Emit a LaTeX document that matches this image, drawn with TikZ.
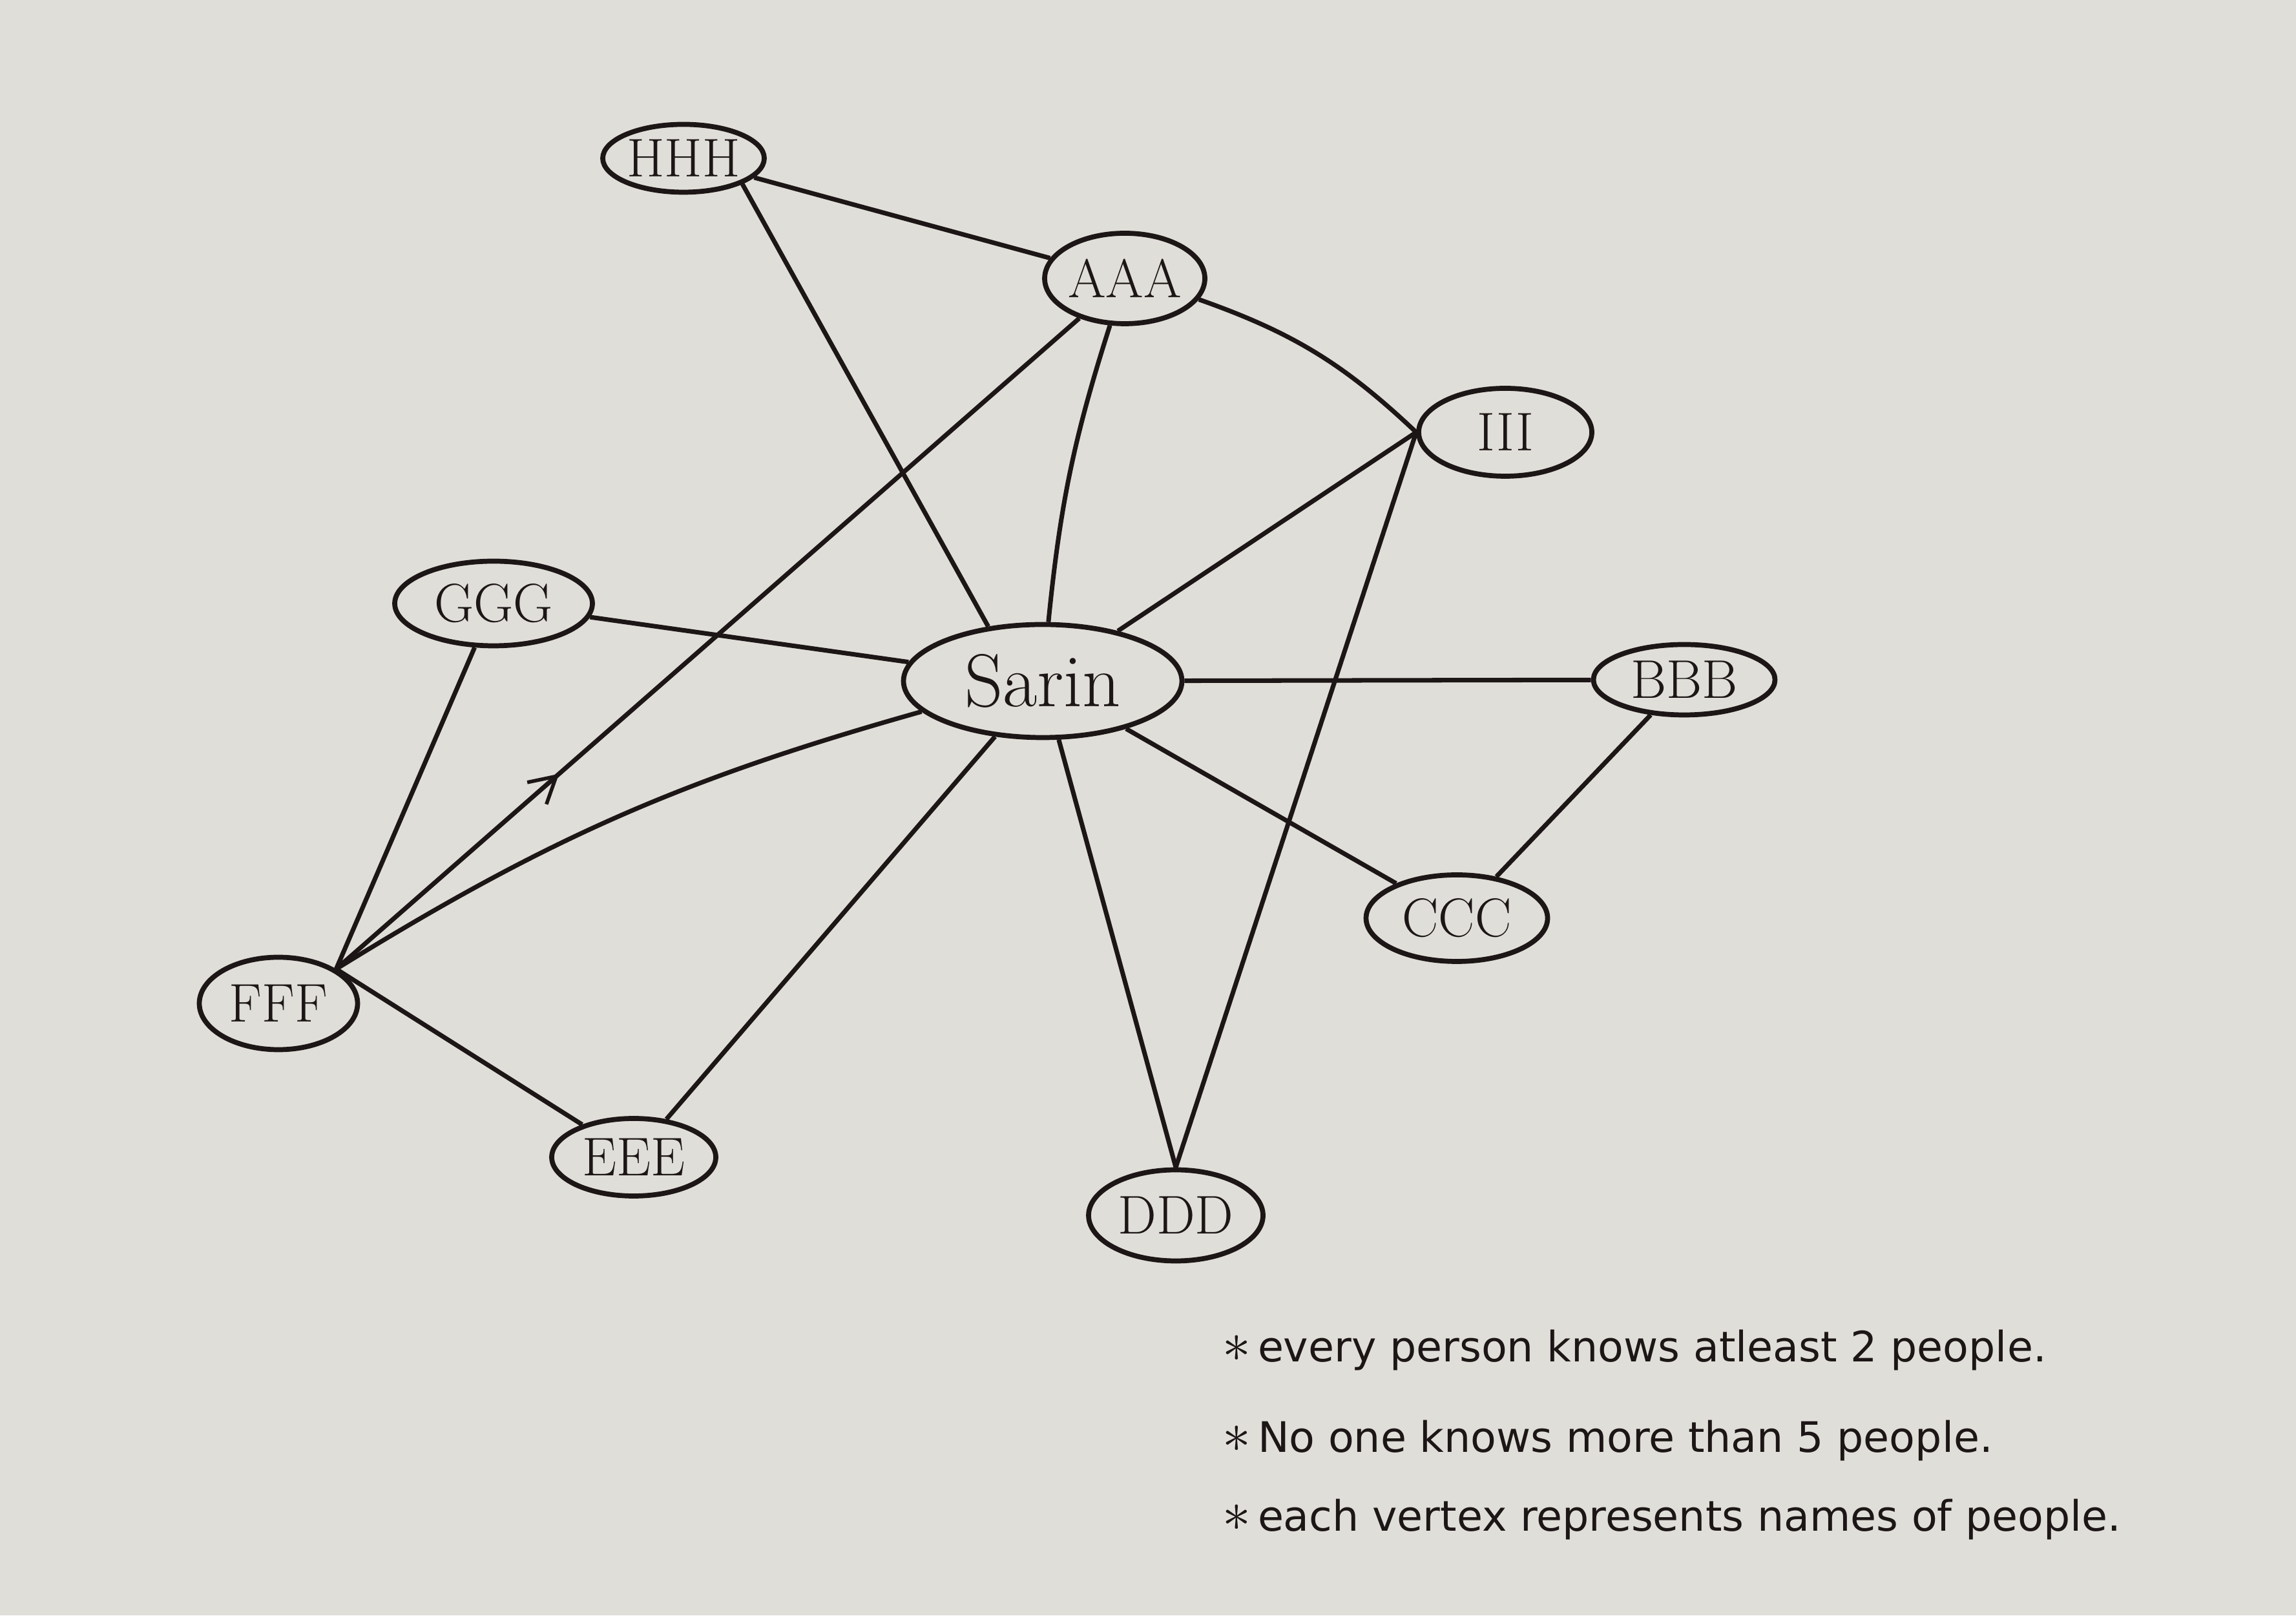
\documentclass[tikz,border=0pt]{standalone}
\usepackage{amsmath}
\usepackage{fontspec}
\newfontfamily\notefont{DejaVu Sans}
\usetikzlibrary{shapes.geometric, positioning, arrows.meta, decorations.markings}
\definecolor{paper}{RGB}{224,222,216}
\definecolor{ink}{RGB}{28,22,22}
\tikzset{
  person/.style={ellipse, draw=ink, line width=2.2pt, inner sep=0pt, align=center, font=\fontsize{24}{29}\selectfont, text=ink},
  link/.style={draw=ink, line width=2pt},
  midarrow/.style={postaction={decorate}, decoration={markings, mark=at position #1 with {\arrow[ink, line width=1.6pt]{Straight Barb[length=4mm, width=4.5mm]}}}},
  note/.style={anchor=base west, font=\notefont\fontsize{18.5}{22}\selectfont, text=ink}
}
\newcommand{\bullstar}{{\fontsize{30}{30}\selectfont$\ast$}\,}
\begin{document}
\begin{tikzpicture}
  \fill[paper] (0,0) rectangle (35.54,25);
  \useasboundingbox (0,0) rectangle (35.54,25);

  % --- vertices ---
  \node (hhh) [person, minimum width=2.5cm, minimum height=1.05cm] at (10.58,22.55) {HHH};
  \node (aaa) [person, minimum width=2.45cm, minimum height=1.4cm] at (17.41,20.69) {AAA};
  \node (iii) [person, minimum width=2.68cm, minimum height=1.36cm] at (23.30,18.31) {III};
  \node (ggg) [person, minimum width=3.06cm, minimum height=1.31cm] at (7.64,15.66) {GGG};
  \node (sarin) [person, minimum width=4.31cm, minimum height=1.75cm, font=\fontsize{33}{40}\selectfont] at (16.14,14.46) {Sarin};
  \node (bbb) [person, minimum width=2.81cm, minimum height=1.09cm] at (26.07,14.48) {BBB};
  \node (ccc) [person, minimum width=2.81cm, minimum height=1.34cm] at (22.55,10.79) {CCC};
  \node (fff) [person, minimum width=2.45cm, minimum height=1.43cm] at (4.31,9.47) {FFF};
  \node (eee) [person, minimum width=2.54cm, minimum height=1.2cm] at (9.81,7.09) {EEE};
  \node (ddd) [person, minimum width=2.7cm, minimum height=1.41cm] at (18.20,6.19) {DDD};

  % --- edges ---
  \draw [link] (hhh) -- (aaa);
  \draw [link] (hhh.south east) -- (sarin.135);
  \draw [link] (aaa) to[bend left=12] (iii.west);
  \draw [link] (sarin) to[bend left=6] (aaa);
  \draw [link, midarrow=0.3] (fff.north east) -- (aaa);
  \draw [link] (sarin) -- (iii.west);
  \draw [link] (iii.west) -- (ddd.north);
  \draw [link] (ggg) -- (sarin);
  \draw [link] (ggg) -- (fff.north east);
  \draw [link] (fff.north east) to[bend left=8] (sarin);
  \draw [link] (sarin) -- (bbb);
  \draw [link] (sarin) -- (ccc);
  \draw [link] (sarin) -- (ddd.north);
  \draw [link] (sarin) -- (eee);
  \draw [link] (bbb) -- (ccc);
  \draw [link] (fff.north east) -- (eee);

  % --- notes ---
  \node (note1) [note] at (18.8,3.92) {\bullstar every person knows atleast 2 people.};
  \node (note2) [note] at (18.8,2.52) {\bullstar No one knows more than 5 people.};
  \node (note3) [note] at (18.8,1.31) {\bullstar each vertex represents names of people.};
\end{tikzpicture}
\end{document}
